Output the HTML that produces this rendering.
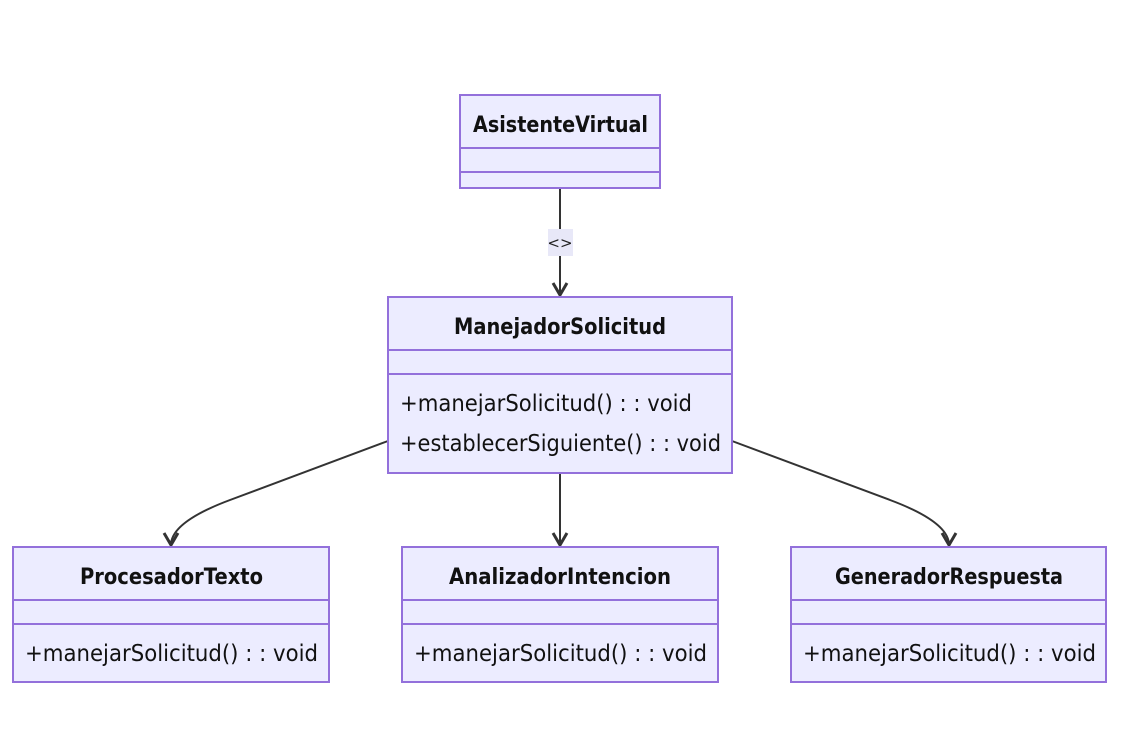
<!DOCTYPE html>
<html><head><meta charset="utf-8"><style>
html,body{margin:0;padding:0;background:#fff;}
svg{display:block;}
text{font-family:"DejaVu Sans","Liberation Sans",sans-serif;fill:#111;}
.b{font-weight:bold;font-size:22px;}
.m{font-size:23px;}
rect.c{fill:#ececff;stroke:#9370db;stroke-width:2;}
line.d{stroke:#9370db;stroke-width:2;}
.e{stroke:#333;stroke-width:2;fill:none;}
</style></head><body>
<svg width="1123" height="752" viewBox="0 0 1123 752" xmlns="http://www.w3.org/2000/svg">
<defs>
<marker id="a" markerWidth="20" markerHeight="20" refX="14" refY="9" orient="auto" markerUnits="userSpaceOnUse">
<path d="M2,2 L14,9 L2,16" fill="none" stroke="#333" stroke-width="3"/>
</marker>
</defs>
<line class="e" x1="560" y1="188" x2="560" y2="295" marker-end="url(#a)"/>
<rect x="548" y="229" width="25" height="27" fill="#e8e8f8"/>
<text x="560" y="248" text-anchor="middle" style="font-size:15px;fill:#222">&lt;&gt;</text>
<line class="e" x1="560" y1="473" x2="560" y2="545" marker-end="url(#a)"/>
<path class="e" d="M388,441 L230,500 Q171,522 171,545" marker-end="url(#a)"/>
<path class="e" d="M732,441 L890,500 Q949,522 949,545" marker-end="url(#a)"/>

<rect class="c" x="460" y="95" width="200" height="93"/>
<line class="d" x1="460" y1="148" x2="660" y2="148"/>
<line class="d" x1="460" y1="172" x2="660" y2="172"/>
<text class="b" x="473" y="132" textLength="175" lengthAdjust="spacingAndGlyphs">AsistenteVirtual</text>

<rect class="c" x="388" y="297" width="344" height="176"/>
<line class="d" x1="388" y1="350" x2="732" y2="350"/>
<line class="d" x1="388" y1="374" x2="732" y2="374"/>
<text class="b" x="454" y="334" textLength="212" lengthAdjust="spacingAndGlyphs">ManejadorSolicitud</text>
<text class="m" x="400" y="411" textLength="292" lengthAdjust="spacingAndGlyphs">+manejarSolicitud() : : void</text>
<text class="m" x="400" y="451" textLength="321" lengthAdjust="spacingAndGlyphs">+establecerSiguiente() : : void</text>

<rect class="c" x="13" y="547" width="316" height="135"/>
<line class="d" x1="13" y1="600" x2="329" y2="600"/>
<line class="d" x1="13" y1="624" x2="329" y2="624"/>
<text class="b" x="80" y="584" textLength="183" lengthAdjust="spacingAndGlyphs">ProcesadorTexto</text>
<text class="m" x="25" y="661" textLength="293" lengthAdjust="spacingAndGlyphs">+manejarSolicitud() : : void</text>

<rect class="c" x="402" y="547" width="316" height="135"/>
<line class="d" x1="402" y1="600" x2="718" y2="600"/>
<line class="d" x1="402" y1="624" x2="718" y2="624"/>
<text class="b" x="449" y="584" textLength="222" lengthAdjust="spacingAndGlyphs">AnalizadorIntencion</text>
<text class="m" x="414" y="661" textLength="293" lengthAdjust="spacingAndGlyphs">+manejarSolicitud() : : void</text>

<rect class="c" x="791" y="547" width="315" height="135"/>
<line class="d" x1="791" y1="600" x2="1106" y2="600"/>
<line class="d" x1="791" y1="624" x2="1106" y2="624"/>
<text class="b" x="835" y="584" textLength="228" lengthAdjust="spacingAndGlyphs">GeneradorRespuesta</text>
<text class="m" x="803" y="661" textLength="293" lengthAdjust="spacingAndGlyphs">+manejarSolicitud() : : void</text>
</svg>
</body></html>
